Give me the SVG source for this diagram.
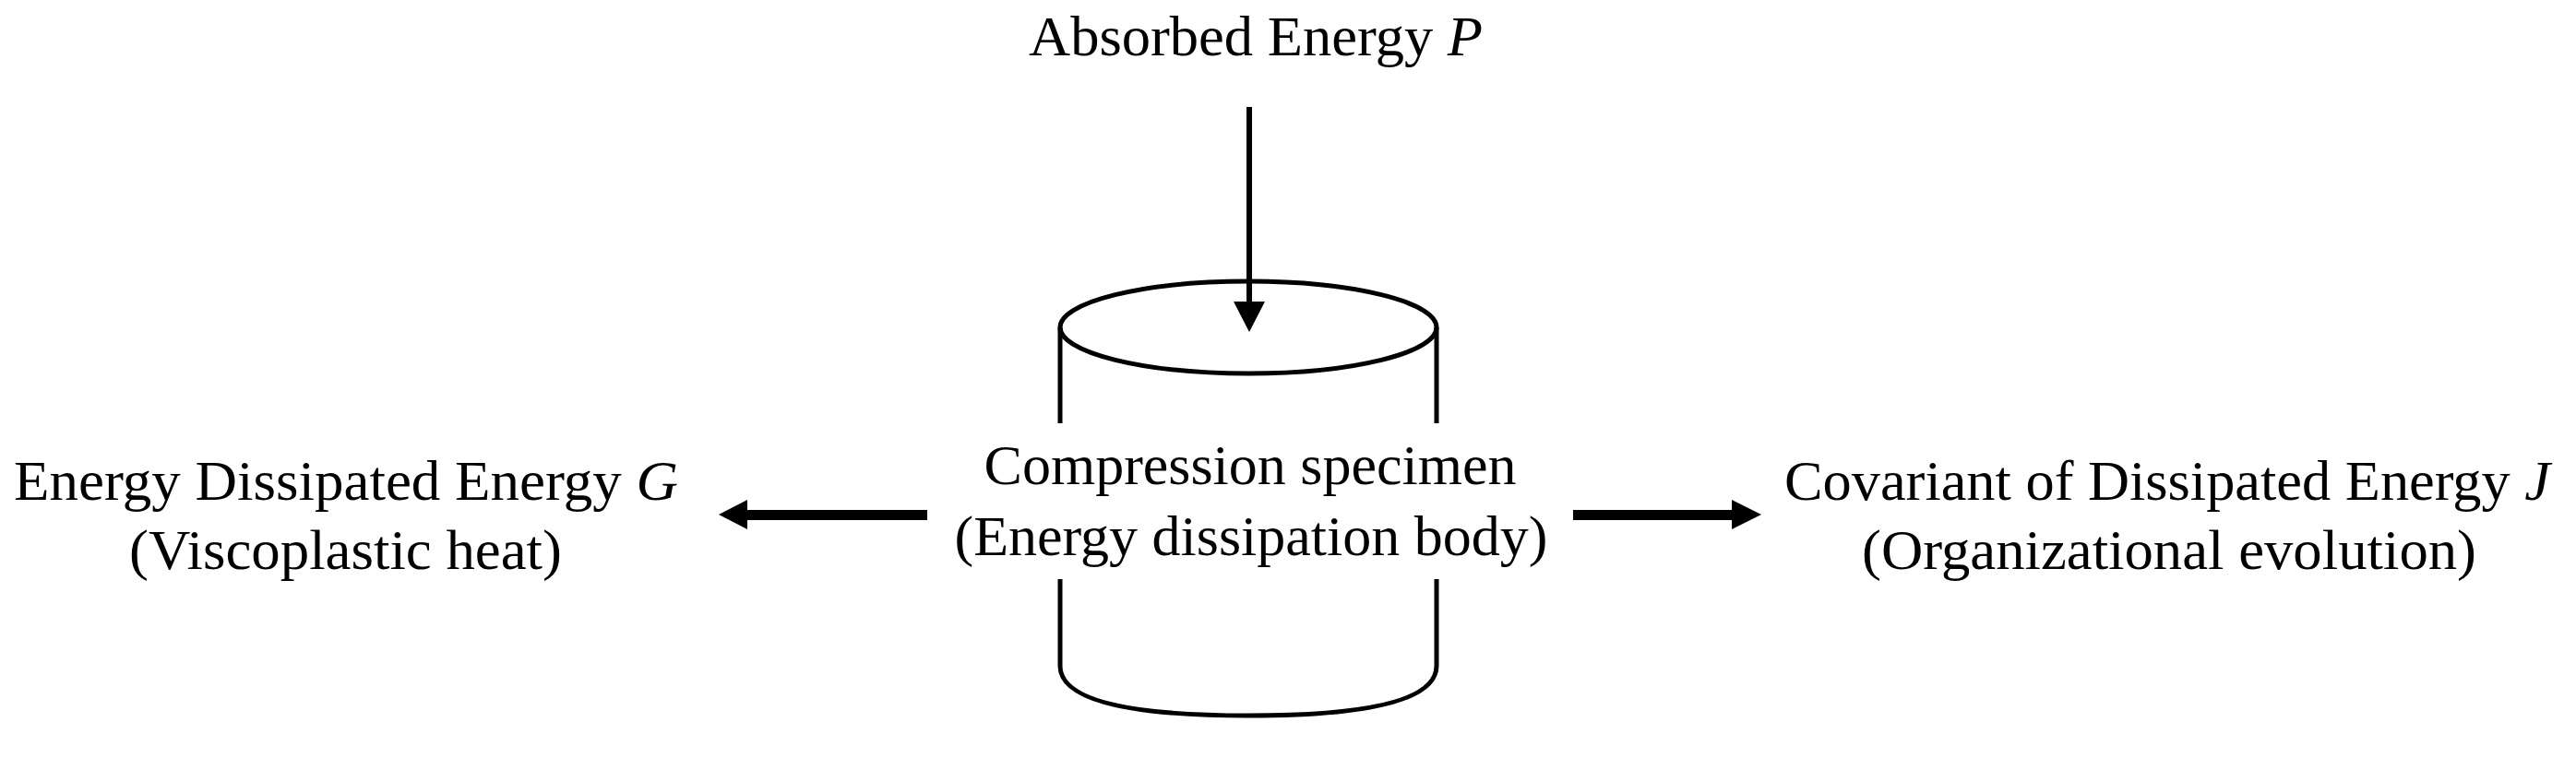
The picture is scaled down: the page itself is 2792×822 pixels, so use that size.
<svg xmlns="http://www.w3.org/2000/svg" width="2792" height="822" viewBox="0 0 2792 822">
<style>
text{font-family:"Liberation Serif","Times New Roman",serif;font-size:62px;fill:#000}
.it{font-style:italic}
.ln{fill:none;stroke:#000;stroke-width:5}
</style>
<rect width="2792" height="822" fill="#fff"/>
<g id="specimen">
<ellipse class="ln" cx="1353" cy="355" rx="204" ry="50"/>
<path class="ln" d="M1149 355V459M1557 355V459M1149 628V722Q1149 776 1353 776Q1557 776 1557 722V628"/>
<text x="1355" y="525" text-anchor="middle">Compression specimen</text>
<text x="1356" y="602" text-anchor="middle">(Energy dissipation body)</text>
</g>
<g id="absorbed"><text x="1361" y="60" text-anchor="middle" textLength="492" lengthAdjust="spacingAndGlyphs">Absorbed Energy <tspan class="it">P</tspan></text></g>
<g id="dissipated"><text x="15" y="542" textLength="720" lengthAdjust="spacingAndGlyphs">Energy Dissipated Energy <tspan class="it">G</tspan></text>
<text x="140" y="617" textLength="469" lengthAdjust="spacingAndGlyphs">(Viscoplastic heat)</text></g>
<g id="covariant"><text x="1934" y="542" textLength="830" lengthAdjust="spacingAndGlyphs">Covariant of Dissipated Energy <tspan class="it">J</tspan></text>
<text x="2018" y="617" textLength="666" lengthAdjust="spacingAndGlyphs">(Organizational evolution)</text></g>
<g id="connectors">
<path d="M1351 116H1357V327H1371L1354 360L1337 327H1351Z"/>
<path d="M1005 553V564H810V574L779 558L810 542V553Z"/>
<path d="M1705 553H1877V542L1909 558L1877 574V564H1705Z"/>
</g>
</svg>
